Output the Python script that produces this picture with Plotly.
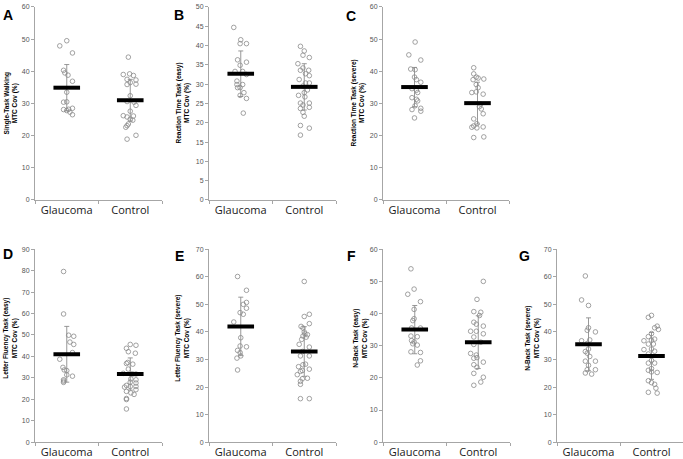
import plotly.graph_objects as go

W, H = 683, 459

groups = ["Glaucoma", "Control"]

# ---- Panel data (x jitter offsets in category units) ----
A_glau = [47.9, 49.5, 45.7, 40.3, 39.5, 38.8, 36.9, 33.5, 30.4, 30.5, 28.1, 28.2, 28.5, 27.3, 26.5, 27.8]
A_glau_dx = [-0.11, 0, 0.09, -0.05, -0.03, 0.02, 0.09, 0, -0.05, 0, -0.05, 0.03, 0.09, 0.05, 0.09, 0]
A_ctrl = [44.4, 39.0, 39.2, 38.7, 37.5, 37.3, 36.5, 35.9, 36.0, 32.4, 30.6, 30.4, 29.4, 27.6, 26.2, 25.8,
          26.1, 25.1, 24.8, 23.6, 23.1, 22.6, 20.1, 18.9]
A_ctrl_dx = [-0.03, -0.11, -0.01, 0.05, -0.05, 0.09, 0, -0.05, 0.09, 0, -0.05, 0.06, 0.09, 0, -0.11, -0.05,
             0.05, 0, 0.04, -0.03, -0.05, -0.07, 0.09, -0.05]

B_glau = [44.7, 41.5, 40.5, 40.5, 36.3, 35.7, 34.9, 33.3, 33.3, 32.5, 30.8, 29.9, 29.9, 29.1, 29.1, 27.8, 27.1, 26.3, 22.5]
B_glau_dx = [-0.11, 0, -0.01, 0.09, -0.05, 0.09, -0.01, -0.09, 0.03, 0.09, -0.06, -0.06, 0.03, -0.05, -0.01, 0.05, -0.01, 0.09, 0.04]
B_ctrl = [39.8, 38.6, 37.5, 36.9, 35.3, 34.2, 33.6, 33.6, 32.7, 32.2, 31.2, 30.3, 30.3, 29.5, 28.5, 27.8, 27.1, 26.7,
          25.1, 25.1, 24.6, 24.0, 23.7, 22.7, 21.7, 19.3, 18.6, 16.8]
B_ctrl_dx = [-0.06, 0, -0.02, 0.08, -0.1, -0.02, -0.06, 0.07, 0.02, 0.08, -0.08, 0.02, 0.08, -0.02, 0.05, 0, -0.09, 0.01,
             -0.06, 0.08, -0.02, 0.08, -0.06, -0.02, 0, -0.06, 0.08, -0.06]

C_glau = [49.1, 45.1, 43.5, 40.7, 40.5, 38.2, 37.4, 36.6, 34.6, 34.1, 33.4, 31.8, 31.3, 30.8, 29.3, 28.5, 28.1, 27.6, 25.5]
C_glau_dx = [0.01, -0.09, 0.1, -0.06, 0.01, 0, 0.03, 0.1, -0.04, 0.03, 0.05, -0.04, 0.03, 0.05, 0.01, 0.1, -0.04, 0.1, 0]
C_ctrl = [41.1, 39.2, 38.2, 37.9, 37.6, 37.4, 35.9, 34.9, 33.6, 33.4, 32.9, 29.8, 29.0, 28.3, 26.8, 25.2, 23.7, 23.0,
          22.6, 22.4, 22.7, 19.4, 19.6]
C_ctrl_dx = [-0.06, -0.06, -0.02, 0.01, 0.1, -0.07, -0.02, 0.01, -0.02, -0.09, 0.09, 0.05, 0.03, 0.06, 0.09, -0.06, -0.01, -0.06,
             -0.09, -0.01, 0.09, -0.06, 0.1]

D_glau = [79.6, 59.8, 49.9, 49.4, 46.7, 45.6, 41.8, 38.7, 34.9, 33.7, 33.4, 31.4, 30.8, 29.1, 28.5, 27.9]
D_glau_dx = [-0.05, -0.05, 0.03, 0.11, 0.05, 0.11, 0.09, -0.11, -0.06, -0.04, 0, 0, 0.09, -0.05, -0.05, -0.05]
D_ctrl = [45.6, 45.2, 43.8, 42.2, 41.5, 37.2, 36.7, 36.4, 34.1, 32.1, 31.8, 31.8, 31.8, 29.5, 29.1, 28.0, 27.6, 26.5,
          26.0, 25.7, 26.0, 24.5, 23.7, 23.0, 22.3, 20.4, 19.9, 15.5]
D_ctrl_dx = [0, 0.09, -0.06, -0.03, 0.08, -0.04, -0.06, 0.04, -0.03, -0.11, 0.04, 0.01, 0.09, 0.01, 0.09, 0, 0.09, -0.06,
             0, -0.09, 0.09, 0.09, -0.06, 0.01, 0.06, -0.06, -0.06, -0.06]

E_glau = [60.1, 55.1, 50.7, 50.0, 48.6, 47.0, 46.4, 43.6, 37.9, 34.9, 34.6, 33.3, 32.5, 31.3, 30.5, 26.2]
E_glau_dx = [-0.05, 0.09, 0.09, 0.04, 0.09, -0.01, 0.04, -0.11, 0, -0.01, 0.09, -0.05, -0.01, 0, -0.06, -0.05]
E_ctrl = [58.3, 46.4, 45.6, 43.0, 42.0, 41.4, 40.0, 39.3, 39.0, 38.5, 38.1, 37.3, 35.5, 34.5, 32.9, 31.3, 31.3, 28.3,
          28.1, 27.4, 26.0, 26.5, 25.7, 24.5, 23.2, 23.0, 22.1, 21.0, 15.8, 15.8]
E_ctrl_dx = [0, 0.08, 0, 0.08, -0.05, -0.02, 0, 0.01, 0.05, -0.02, 0.03, -0.04, -0.08, 0.08, -0.03, -0.06, 0.08, 0.02,
             -0.02, -0.09, -0.03, 0.08, -0.06, -0.11, 0.05, -0.03, -0.06, -0.06, -0.06, 0.08]

F_glau = [53.9, 47.6, 46.0, 43.7, 41.3, 38.4, 37.8, 35.5, 35.5, 33.0, 32.8, 31.6, 31.2, 30.6, 30.2, 28.1, 27.9, 25.3, 24.0]
F_glau_dx = [-0.06, -0.01, -0.11, 0.09, -0.01, -0.01, -0.03, -0.05, 0.09, -0.06, 0.04, -0.05, -0.01, -0.03, 0.04, -0.06, 0.09, 0.09, 0.04]
F_ctrl = [50.0, 44.4, 40.6, 40.4, 39.4, 37.3, 36.7, 36.1, 34.5, 34.5, 33.7, 32.7, 31.1, 30.4, 27.6, 27.1, 26.1, 26.3,
          24.9, 24.1, 23.3, 21.4, 20.2, 18.7, 17.7]
F_ctrl_dx = [0.08, -0.02, -0.07, 0.04, 0.02, -0.07, -0.03, 0.08, -0.12, -0.03, 0.08, -0.07, 0.04, -0.07, -0.12, -0.03, -0.07, -0.02,
             0.08, -0.07, -0.02, -0.07, 0.08, 0.04, -0.07]

G_glau = [60.3, 51.6, 49.6, 41.5, 40.6, 40.0, 37.1, 36.8, 35.8, 33.8, 32.9, 32.3, 31.1, 29.4, 29.4, 27.9, 26.3, 26.3, 25.1, 24.7]
G_glau_dx = [-0.05, -0.11, 0, 0, -0.02, 0.11, 0.02, -0.11, -0.02, 0, -0.05, -0.02, 0.02, -0.05, 0.11, 0, -0.02, 0.11, -0.05, 0.05]
G_ctrl = [46.0, 45.3, 42.1, 41.5, 40.9, 39.4, 38.3, 37.4, 37.0, 36.8, 35.6, 35.6, 33.8, 33.6, 33.0, 32.0, 29.7, 28.7,
          28.7, 26.7, 26.1, 25.5, 25.3, 22.3, 21.6, 21.0, 19.6, 17.8, 18.1]
G_ctrl_dx = [0, -0.05, 0.09, 0.05, 0.11, 0, -0.05, 0.05, 0, -0.12, -0.05, 0.03, 0, -0.12, 0.05, -0.05, 0, -0.05,
             0.05, 0, -0.05, 0, 0.09, -0.05, 0, 0.05, 0.07, 0.09, -0.05]

# group means and SDs
means = {"A": [34.9, 31.0], "B": [32.7, 29.3], "C": [35.1, 30.1], "D": [41.0, 31.8],
         "E": [42.0, 32.9], "F": [35.0, 31.1], "G": [35.5, 31.3]}
sds = {"A": [7.2, 6.5], "B": [5.9, 6.0], "C": [6.1, 6.5], "D": [13.0, 7.5],
       "E": [10.6, 9.0], "F": [7.5, 8.2], "G": [9.6, 8.5]}

ymax = {"A": 60, "B": 50, "C": 60, "D": 90, "E": 70, "F": 60, "G": 70}
ydtick = {"A": 10, "B": 5, "C": 10, "D": 10, "E": 10, "F": 10, "G": 10}
ytitles = {
    "A": "Single-Task Walking<br>MTC Cov (%)",
    "B": "Reaction Time Task (easy)<br>MTC Cov (%)",
    "C": "Reaction Time Task (severe)<br>MTC Cov (%)",
    "D": "Letter Fluency Task (easy)<br>MTC Cov (%)",
    "E": "Letter Fluency Task (severe)<br>MTC Cov (%)",
    "F": "N-Back Task (easy)<br>MTC Cov (%)",
    "G": "N-Back Task (severe)<br>MTC Cov (%)",
}
panel_data = {
    "A": (A_glau, A_glau_dx, A_ctrl, A_ctrl_dx),
    "B": (B_glau, B_glau_dx, B_ctrl, B_ctrl_dx),
    "C": (C_glau, C_glau_dx, C_ctrl, C_ctrl_dx),
    "D": (D_glau, D_glau_dx, D_ctrl, D_ctrl_dx),
    "E": (E_glau, E_glau_dx, E_ctrl, E_ctrl_dx),
    "F": (F_glau, F_glau_dx, F_ctrl, F_ctrl_dx),
    "G": (G_glau, G_glau_dx, G_ctrl, G_ctrl_dx),
}

# ---- layout geometry (pixels) ----
xpix = {"A": (35, 162), "B": (209, 336), "C": (383, 509),
        "D": (35, 162), "E": (209, 336), "F": (383, 510), "G": (557, 683)}
ypix = {"A": (3, 199), "B": (3, 199), "C": (3, 199),
        "D": (249, 445), "E": (249, 445), "F": (249, 445), "G": (249, 445)}
letter_pos = {"A": (8, 11), "B": (179, 11), "C": (351, 12),
              "D": (8, 254), "E": (179, 256), "F": (351, 256), "G": (524, 256)}
title_pos = {"A": (11, 101), "B": (183, 101), "C": (358, 101),
             "D": (10, 340), "E": (182, 340), "F": (360, 340), "G": (532, 340)}

fig = go.Figure()
ann = []
AX = "#a6a6a6"
for i, key in enumerate(["A", "B", "C", "D", "E", "F", "G"]):
    n = i + 1
    xa = "x" if n == 1 else f"x{n}"
    ya = "y" if n == 1 else f"y{n}"
    g, gdx, c, cdx = panel_data[key]
    for k, (vals, dxs) in enumerate([(g, gdx), (c, cdx)]):
        fig.add_trace(go.Scatter(
            x=[k + 0.5 + d for d in dxs], y=vals, mode="markers", xaxis=xa, yaxis=ya,
            marker=dict(symbol="circle-open", size=4.6, color="#8a8a8a", line=dict(width=0.8, color="#8a8a8a")),
            showlegend=False, hoverinfo="y"))
    fig.add_trace(go.Scatter(
        x=[0.5, 1.5], y=means[key], mode="markers", xaxis=xa, yaxis=ya,
        marker=dict(size=1, color="rgba(0,0,0,0)"),
        error_y=dict(type="data", array=sds[key], color="#8c8c8c", thickness=0.9, width=2.5),
        showlegend=False, hoverinfo="skip"))
    fig.add_trace(go.Scatter(
        x=[0.5, 1.5], y=means[key], mode="markers", xaxis=xa, yaxis=ya,
        marker=dict(symbol="line-ew", size=19, line=dict(width=4, color="black")),
        showlegend=False, hoverinfo="y"))

    x0, x1 = xpix[key]
    y0, y1 = ypix[key]
    xdom = [x0 / W, min(x1 / W, 1.0)]
    ydom = [1 - y1 / H, 1 - y0 / H]
    xname = "xaxis" if n == 1 else f"xaxis{n}"
    yname = "yaxis" if n == 1 else f"yaxis{n}"
    fig.layout[xname] = dict(
        domain=xdom, range=[0, 2], anchor=ya, showgrid=False, zeroline=False,
        showline=True, linecolor=AX, linewidth=1,
        tickmode="array", tickvals=[0.5, 1.5], ticktext=groups, ticks="",
        tickfont=dict(family="Open Sans", size=11, color="#1a1a1a"),
        minor=dict(tickmode="array", tickvals=[0, 1, 2], ticks="outside", ticklen=3, tickcolor=AX, tickwidth=1),
        fixedrange=True)
    fig.layout[yname] = dict(
        domain=ydom, range=[0, ymax[key]], anchor=xa, showgrid=False, zeroline=False,
        showline=True, linecolor=AX, linewidth=1, tick0=0, dtick=ydtick[key],
        ticks="outside", ticklen=3, tickcolor=AX,
        tickfont=dict(family="Liberation Sans", size=7, color="#555555"),
        fixedrange=True)
    lx, ly = letter_pos[key]
    ann.append(dict(text=f"<b>{key}</b>", x=lx / W, y=1 - ly / H, xref="paper", yref="paper",
                    showarrow=False, xanchor="center", yanchor="middle",
                    font=dict(family="Liberation Sans", size=14, color="black")))
    tx, ty = title_pos[key]
    ann.append(dict(text=f"<b>{ytitles[key]}</b>", x=tx / W, y=1 - ty / H, xref="paper", yref="paper",
                    showarrow=False, xanchor="center", yanchor="middle", textangle=-90,
                    font=dict(family="Liberation Sans", size=6.5, color="black")))

fig.update_layout(width=W, height=H, margin=dict(l=0, r=0, t=0, b=0),
                  paper_bgcolor="white", plot_bgcolor="white", annotations=ann)
fig.write_html("out.html", config={"displayModeBar": False},
               post_script="document.body.style.margin='0';document.body.style.overflow='hidden';")
